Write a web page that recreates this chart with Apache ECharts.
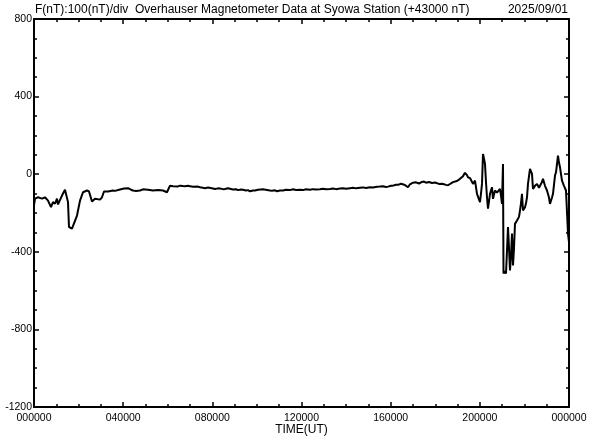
<!DOCTYPE html>
<html>
<head>
<meta charset="utf-8">
<script src="https://cdn.jsdelivr.net/npm/echarts@6/dist/echarts.min.js"></script>
<style>
html,body{margin:0;padding:0;background:#fff;}
#c{width:592px;height:440px;}
</style>
</head>
<body>
<div id="c"></div>
<script>
// Time in hours UT (0-24), total field deviation in nT (relative to 43000 nT)
var hours = [
0,0.045,0.180,0.359,0.493,0.628,0.763,0.852,0.942,1.032,1.077,1.256,1.391,1.480,1.525,1.570,1.705,1.794,1.929,2.064,
2.198,2.377,2.467,2.602,2.736,2.961,3.050,3.140,3.320,3.544,3.634,3.858,4.037,4.217,4.351,4.441,4.576,4.755,4.890,4.979,
5.114,5.338,5.563,5.787,5.966,6.101,6.236,6.325,6.460,6.550,6.684,6.774,6.908,6.998,7.133,7.222,7.357,7.447,7.581,7.671,
7.806,7.895,8.030,8.120,8.254,8.344,8.478,8.568,8.703,8.792,8.927,9.061,9.151,9.286,9.376,9.510,9.600,9.690,9.824,9.914,
10.049,10.138,10.273,10.452,10.587,10.677,10.811,10.901,11.036,11.170,11.305,11.484,11.619,11.753,11.933,12.067,12.202,12.381,12.516,12.650,
12.830,12.964,13.099,13.278,13.413,13.547,13.727,13.861,13.996,14.176,14.310,14.445,14.624,14.759,14.893,15.073,15.207,15.387,15.521,15.656,
15.790,15.880,16.015,16.105,16.239,16.329,16.464,16.553,16.643,16.688,16.777,16.867,16.912,17.002,17.047,17.136,17.181,17.271,17.316,17.405,
17.495,17.585,17.630,17.719,17.764,17.854,17.899,17.989,18.078,18.168,18.213,18.302,18.392,18.482,18.572,18.661,18.796,18.885,18.975,19.110,
19.245,19.334,19.424,19.469,19.559,19.648,19.693,19.783,19.873,19.962,20.007,20.052,20.097,20.142,20.187,20.231,20.276,20.321,20.366,20.411,
20.456,20.545,20.590,20.680,20.770,20.815,20.904,20.949,20.994,21.039,21.062,21.129,21.174,21.219,21.263,21.308,21.353,21.398,21.443,21.488,
21.533,21.577,21.667,21.757,21.802,21.846,21.891,21.936,22.026,22.071,22.116,22.160,22.250,22.340,22.385,22.474,22.564,22.654,22.699,22.788,
22.833,22.923,23.013,23.102,23.147,23.237,23.282,23.372,23.417,23.461,23.506,23.551,23.596,23.641,23.686,23.775,23.820,23.865,23.910,23.955,
24.0
];
var fieldNT = [
-161,-126,-119,-126,-119,-136,-170,-144,-152,-126,-156,-110,-80,-84,-144,-273,-280,-278,-213,-136,
-93,-84,-89,-141,-127,-131,-119,-89,-89,-84,-86,-79,-74,-72,-80,-84,-86,-84,-78,-76,
-80,-84,-82,-84,-93,-59,-62,-60,-63,-59,-61,-62,-60,-62,-65,-66,-64,-67,-70,-72,
-69,-79,-74,-76,-73,-74,-77,-76,-72,-74,-79,-77,-82,-79,-80,-84,-82,-88,-84,-84,
-80,-82,-78,-81,-84,-85,-83,-88,-84,-84,-80,-82,-78,-81,-80,-82,-78,-80,-77,-79,
-78,-75,-78,-76,-74,-77,-74,-72,-75,-72,-70,-73,-70,-68,-71,-67,-69,-65,-64,-62,
-66,-64,-60,-59,-54,-55,-49,-47,-56,-58,-67,-52,-50,-44,-45,-42,-41,-48,-46,-40,
-38,-44,-36,-40,-42,-45,-47,-43,-44,-50,-50,-49,-52,-55,-57,-52,-41,-38,-35,-24,
-10,7,-5,-16,-20,-24,-50,-33,-101,-130,-144,-100,-50,104,80,53,-40,-119,-178,-140,
-101,-67,-127,-84,-95,-93,-76,-110,-153,53,-512,-500,-512,-393,-273,-380,-496,-420,-306,-470,
-380,-256,-239,-220,-187,-150,-101,-187,-170,-150,-119,-50,27,2,-76,-60,-50,-70,-67,-40,
-24,-60,-84,-120,-153,-120,-101,-7,10,19,96,60,36,0,-33,-60,-67,-84,-76,-306,
-350
];
var yTicks = [-1200, -800, -400, 0, 400, 800];
var xTickHours = [0, 4, 8, 12, 16, 20, 24];
var titleText = 'F(nT):100(nT)/div  Overhauser Magnetometer Data at Syowa Station (+43000 nT)';
var dateText = '2025/09/01';

var series = hours.map(function (h, i) { return [h, fieldNT[i]]; });
var FONT = '"Liberation Sans", Arial, sans-serif';

function xLabel(v) {
  var h = Math.round(v) % 24;
  return (h < 10 ? '0' : '') + h + '0000';
}
var axisLineStyle = { color: '#000', width: 2 };
var tickStyle = { color: '#000', width: 1.5 };
var chart = echarts.init(document.getElementById('c'), null, { renderer: 'canvas' });
chart.setOption({
  animation: false,
  backgroundColor: '#fff',
  grid: { left: 34, right: 23, top: 19, bottom: 33, containLabel: false, outerBoundsMode: 'none' },
  graphic: [
    { type: 'text', left: 35, top: 4, style: { text: titleText, font: '12px ' + FONT, fill: '#000' } },
    { type: 'text', right: 24, top: 4, style: { text: dateText, font: '12px ' + FONT, fill: '#000' } }
  ],
  xAxis: [{
    type: 'value', min: xTickHours[0], max: xTickHours[xTickHours.length - 1], interval: 4,
    position: 'bottom',
    name: 'TIME(UT)', nameLocation: 'middle', nameGap: 17, nameMoveOverlap: false,
    nameTextStyle: { color: '#000', fontSize: 12, fontFamily: FONT },
    axisLine: { show: true, onZero: false, lineStyle: axisLineStyle },
    axisTick: { show: true, inside: true, length: 5, lineStyle: tickStyle },
    minorTick: { show: true, splitNumber: 4, length: 3, lineStyle: tickStyle },
    axisLabel: { color: '#000', fontSize: 10.5, fontFamily: FONT, margin: 6, formatter: xLabel, showMinLabel: true, showMaxLabel: true, hideOverlap: false },
    splitLine: { show: false }
  }, {
    type: 'value', min: 0, max: 24, interval: 4, position: 'top',
    axisLine: { show: true, onZero: false, lineStyle: axisLineStyle },
    axisTick: { show: true, inside: true, length: 5, lineStyle: tickStyle },
    minorTick: { show: true, splitNumber: 4, length: 3, lineStyle: tickStyle },
    axisLabel: { show: false }, splitLine: { show: false }
  }],
  yAxis: [{
    type: 'value', min: yTicks[0], max: yTicks[yTicks.length - 1], interval: 400,
    position: 'left',
    axisLine: { show: true, onZero: false, lineStyle: axisLineStyle },
    axisTick: { show: true, inside: true, length: 5, lineStyle: tickStyle },
    minorTick: { show: true, splitNumber: 4, length: 3, lineStyle: tickStyle },
    axisLabel: { color: '#000', fontSize: 10.5, fontFamily: FONT, margin: 2, showMinLabel: true, showMaxLabel: true,
      formatter: function (v) { return String(v); } },
    splitLine: { show: false }
  }, {
    type: 'value', min: -1200, max: 800, interval: 400, position: 'right',
    axisLine: { show: true, onZero: false, lineStyle: axisLineStyle },
    axisTick: { show: true, inside: true, length: 5, lineStyle: tickStyle },
    minorTick: { show: true, splitNumber: 4, length: 3, lineStyle: tickStyle },
    axisLabel: { show: false }, splitLine: { show: false }
  }],
  series: [{
    type: 'line', xAxisIndex: 0, yAxisIndex: 0, data: series,
    showSymbol: false, symbol: 'none',
    lineStyle: { color: '#000', width: 2 },
    silent: true
  }]
});
</script>
</body>
</html>
